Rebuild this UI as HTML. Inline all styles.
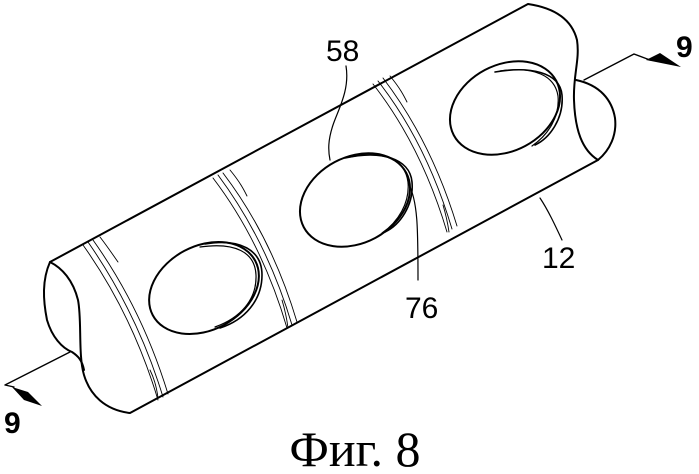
<!DOCTYPE html>
<html><head><meta charset="utf-8"><style>
html,body{margin:0;padding:0;background:#fff;width:699px;height:474px;overflow:hidden}
</style></head><body>
<svg width="699" height="474" viewBox="0 0 699 474" xmlns="http://www.w3.org/2000/svg" fill="none" stroke="#000" stroke-width="2" stroke-linecap="round" stroke-linejoin="round">
<path d="M50,262 L528,4 C555,8 572,20 577,40 C580,60 573,75 574,100 C575,130 582,150 598,160 L130,413 C105,410 90,395 84,375 C78,355 82,320 78,300 C73,280 62,268 50,262 Z"/>
<path d="M50,262 C42,280 43,300 47,320 C52,337 62,348 72,352 C78,356 82,360 84,370"/>
<path d="M576,80 C600,85 612,100 615,118 C617,135 610,150 598,160"/>
<g stroke-width="0.9">
<path d="M83,245 C115,290 140,340 158,400"/>
<path d="M88,242 C120,288 145,338 163,397"/>
<path d="M93,240 C125,285 150,335 168,394"/>
<path d="M100,237 C110,250 115,258 118,262"/>
<path d="M150,370 C155,380 157,390 158,398"/>
<path d="M213,178 C245,220 270,270 287,328"/>
<path d="M218,175 C250,218 275,268 292,325"/>
<path d="M223,173 C255,215 280,265 297,322"/>
<path d="M230,170 C240,182 244,190 247,196"/>
<path d="M282,300 C285,310 287,320 288,328"/>
<path d="M373,84 C405,125 430,175 447,232"/>
<path d="M378,81 C410,122 435,172 452,229"/>
<path d="M383,78 C415,120 440,170 457,226"/>
<path d="M390,76 C400,88 404,96 407,102"/>
<path d="M443,205 C446,215 448,225 449,232"/>
</g>
<ellipse cx="204" cy="288" rx="58" ry="42" transform="rotate(-28 204 288)"/>
<path d="M205,244 C240,238 262,250 262,275 C262,300 245,320 220,328" stroke-width="1.6"/>
<path d="M200,247 C235,242 255,252 256,275 C257,300 240,318 215,327" stroke-width="1.2"/>
<ellipse cx="355" cy="200" rx="58" ry="43" transform="rotate(-28 355 200)"/>
<path d="M345,158 C380,150 410,158 412,182 C414,205 400,225 385,232" stroke-width="1.6"/>
<path d="M350,157 C385,150 405,160 408,182 C410,203 398,222 382,233" stroke-width="1.2"/>
<ellipse cx="505" cy="108" rx="58" ry="43" transform="rotate(-28 505 108)"/>
<path d="M495,72 C530,66 560,72 562,95 C564,118 550,138 535,145" stroke-width="1.6"/>
<path d="M500,71 C535,66 555,76 558,96 C560,117 548,135 532,146" stroke-width="1.2"/>
<path d="M346,66 C350,90 338,110 333,125 C328,140 328,150 330,160" stroke-width="1.2"/>
<path d="M408,183 C418,200 418,230 418,280" stroke-width="1.2"/>
<path d="M540,198 C548,210 555,225 562,240" stroke-width="1.2"/>
<path d="M584,80 L634,54 L650,60" stroke-width="1.4"/>
<polygon points="646,60 660,53 681,67" fill="#000" stroke="none"/>
<path d="M70,352 L5,385 L14,387" stroke-width="1.4"/>
<polygon points="12,387 28,392 42,406 24,400" fill="#000" stroke="none"/>
<g stroke="none" fill="#000" font-family="Liberation Sans, sans-serif">
<text x="326" y="61" font-size="30">58</text>
<text x="405" y="318" font-size="30">76</text>
<text x="542" y="268" font-size="30">12</text>
<text x="676" y="57" font-size="30" font-weight="bold">9</text>
<text x="4" y="433" font-size="30" font-weight="bold">9</text>
</g>
<text x="355" y="466" font-size="50" text-anchor="middle" stroke="none" fill="#000" font-family="Liberation Serif, serif">Фиг. 8</text>
</svg>
</body></html>
